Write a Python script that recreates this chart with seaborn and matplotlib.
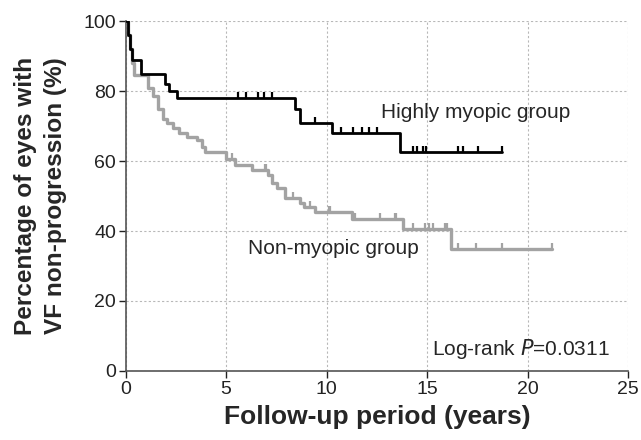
import numpy as np
import pandas as pd
import seaborn as sns
import matplotlib.pyplot as plt
from matplotlib.path import Path

# Kaplan-Meier step curves (time in years, % non-progression)
myopic_time = [0, 0.1, 0.2, 0.3, 0.77, 1.97, 2.18, 2.58, 8.43, 8.68, 10.26, 13.66, 18.7]
myopic_surv = [100, 96, 92, 89, 85, 82, 80, 78, 75, 71, 68, 62.5, 62.5]
myopic_censor = [5.6, 6.0, 6.56, 6.9, 7.3, 9.4, 10.7, 11.3, 11.75, 12.1, 12.5,
                 14.3, 14.5, 14.8, 14.95, 16.55, 16.8, 17.55, 18.7]

nonmyopic_time = [0, 0.1, 0.2, 0.3, 0.42, 1.13, 1.38, 1.63, 1.85, 2.05, 2.38, 2.63,
                  3.04, 3.54, 3.79, 3.96, 5.0, 5.45, 6.28, 7.1, 7.27, 7.52, 7.94,
                  8.68, 8.85, 9.43, 11.25, 13.82, 16.2, 21.2]
nonmyopic_surv = [100, 96, 92, 88, 84.5, 81, 78.5, 75, 72, 71, 69.5, 68,
                  67, 66, 64.1, 62.7, 60.5, 59, 57.5, 56, 53.6, 52.2, 49.3,
                  48, 47, 45.5, 43.5, 40.5, 34.8, 34.8]
nonmyopic_censor = [5.3, 6.94, 7.0, 8.35, 9.18, 10.1, 10.15, 11.4, 12.66, 13.4, 13.45,
                    14.3, 14.9, 15.1, 15.3, 15.9, 16.0, 16.55, 17.44, 18.7, 21.2]

sns.set_style("white")
plt.rcParams['font.family'] = ['Liberation Sans', 'DejaVu Sans']

km = pd.concat([
    pd.DataFrame({"time": myopic_time, "surv": myopic_surv, "group": "Highly myopic"}),
    pd.DataFrame({"time": nonmyopic_time, "surv": nonmyopic_surv, "group": "Non-myopic"}),
], ignore_index=True)

colors = {"Highly myopic": "black", "Non-myopic": "#a3a3a3"}
widths = {"Highly myopic": 2.0, "Non-myopic": 2.4}

fig = plt.figure(figsize=(6.41, 4.4), dpi=100)
ax = fig.add_axes([0.196, 0.157, 0.784, 0.795])

# grid behind the curves
ax.grid(True, linestyle=(0, (2, 2)), color="#b8b8b8", linewidth=0.8)
ax.set_axisbelow(True)

tick_marker = Path([(0, 0), (0, 1)])
censors = {"Highly myopic": myopic_censor, "Non-myopic": nonmyopic_censor}

for name in ["Non-myopic", "Highly myopic"]:
    d = km[km["group"] == name]
    sns.lineplot(data=d, x="time", y="surv", drawstyle="steps-post",
                 color=colors[name], linewidth=widths[name], ax=ax,
                 estimator=None, sort=False, zorder=3)
    # censor marks sit on the curve, pointing up
    t = np.array(censors[name])
    idx = np.searchsorted(d["time"].values, t, side="right") - 1
    s = d["surv"].values[idx]
    ax.plot(t, s, linestyle="none", marker=tick_marker, markersize=9,
            markeredgewidth=1.6, color=colors[name], zorder=4)

ax.set_xlim(0, 25)
ax.set_ylim(0, 100)
ax.set_xticks([0, 5, 10, 15, 20, 25])
ax.set_yticks([0, 20, 40, 60, 80, 100])
ax.tick_params(axis="both", direction="out", length=5, width=1, labelsize=14,
               colors="#222222", pad=2, bottom=True, left=True)
for side in ["top", "right"]:
    ax.spines[side].set_visible(False)
for side in ["left", "bottom"]:
    ax.spines[side].set_color("#555555")
    ax.spines[side].set_linewidth(1.2)

ax.set_xlabel("Follow-up period (years)", fontsize=19, fontweight="bold", labelpad=5)
ax.set_ylabel("Percentage of eyes with\nVF non-progression (%)", fontsize=17.6,
              fontweight="bold", labelpad=12, linespacing=1.35)

ax.text(12.7, 74, "Highly myopic group", fontsize=15, va="center", ha="left")
ax.text(6.1, 35, "Non-myopic group", fontsize=15, va="center", ha="left")
ax.text(24.1, 6.2, "Log-rank $\\it{P}$=0.0311", fontsize=15, va="center", ha="right")

plt.savefig("out.png", dpi=100)
